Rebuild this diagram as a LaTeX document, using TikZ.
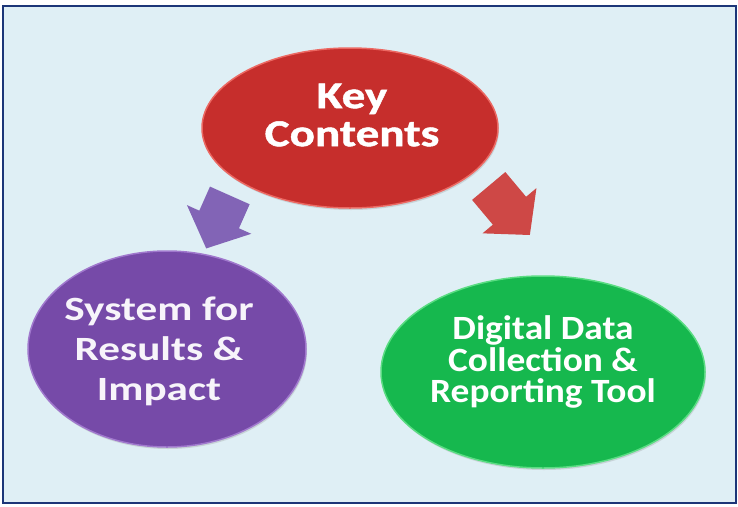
\documentclass[tikz,border=0pt]{standalone}
\usepackage{fontspec}
\setmainfont{Carlito}
\newfontfamily\keyfont{Carlito}[BoldFeatures={FakeBold=1.2,FakeStretch=1.24}]
\newfontfamily\resultsfont{Carlito}[BoldFeatures={FakeStretch=1.27}]
\newfontfamily\toolfont{Carlito}[BoldFeatures={FakeStretch=1.1}]
\usetikzlibrary{shapes.geometric,shapes.arrows,shadows,positioning}
\definecolor{kcnavy}{RGB}{28,54,120}
\definecolor{kcback}{RGB}{223,239,245}
\definecolor{kcred}{RGB}{198,46,44}
\definecolor{kcredrim}{RGB}{236,104,98}
\definecolor{kcredarrow}{RGB}{206,72,70}
\definecolor{kcpurple}{RGB}{118,74,168}
\definecolor{kcpurplerim}{RGB}{160,120,205}
\definecolor{kcpurplearrow}{RGB}{130,100,182}
\definecolor{kcgreen}{RGB}{22,184,78}
\definecolor{kcgreenrim}{RGB}{90,220,130}
\tikzstyle{bubble} = [ellipse, inner sep=0pt, line width=1.5pt, drop shadow={opacity=0.25, shadow xshift=1pt, shadow yshift=-2pt}]
\tikzstyle{bubbletext} = [text=white, align=center, inner sep=0pt]
\tikzstyle{bigarrow} = [single arrow, inner xsep=0pt, inner ysep=21.5pt, single arrow head extend=13.5pt, single arrow tip angle=96, minimum height=58pt]

\begin{document}
\begin{tikzpicture}[x=1pt, y=-1pt]
\useasboundingbox (0,0) rectangle (738,506);
\draw[line width=2pt, draw=kcnavy, fill=kcback] (3,6) rectangle (736,503);

% Ellipses
\node[bubble, fill=kcred, draw=kcredrim, minimum width=296pt, minimum height=160pt] (key) at (350,128) {};
\node[bubbletext, font=\keyfont\bfseries\fontsize{38}{38}\selectfont] at ([xshift=2pt, yshift=13pt]key.center) {Key\\Contents};

\node[bubble, fill=kcpurple, draw=kcpurplerim, minimum width=278pt, minimum height=196pt] (results) at (167,349) {};
\node[bubbletext, text=white!94!kcpurple, font=\resultsfont\bfseries\fontsize{34}{40}\selectfont] at ([xshift=-8pt, yshift=-2.5pt]results.center) {System for\\Results \&\\Impact};

\node[bubble, fill=kcgreen, draw=kcgreenrim, minimum width=324pt, minimum height=192pt] (tool) at (543,372) {};
\node[bubbletext, font=\toolfont\bfseries\fontsize{34}{31.5}\selectfont] at ([yshift=10pt]tool.center) {Digital Data\\Collection \&\\Reporting Tool};

% Arrows
\node[bigarrow, fill=kcpurplearrow, rotate=246] (toresults) at (222,213) {};
\node[bigarrow, fill=kcredarrow, rotate=310, minimum height=64pt] (totool) at (503,203) {};
\end{tikzpicture}
\end{document}
